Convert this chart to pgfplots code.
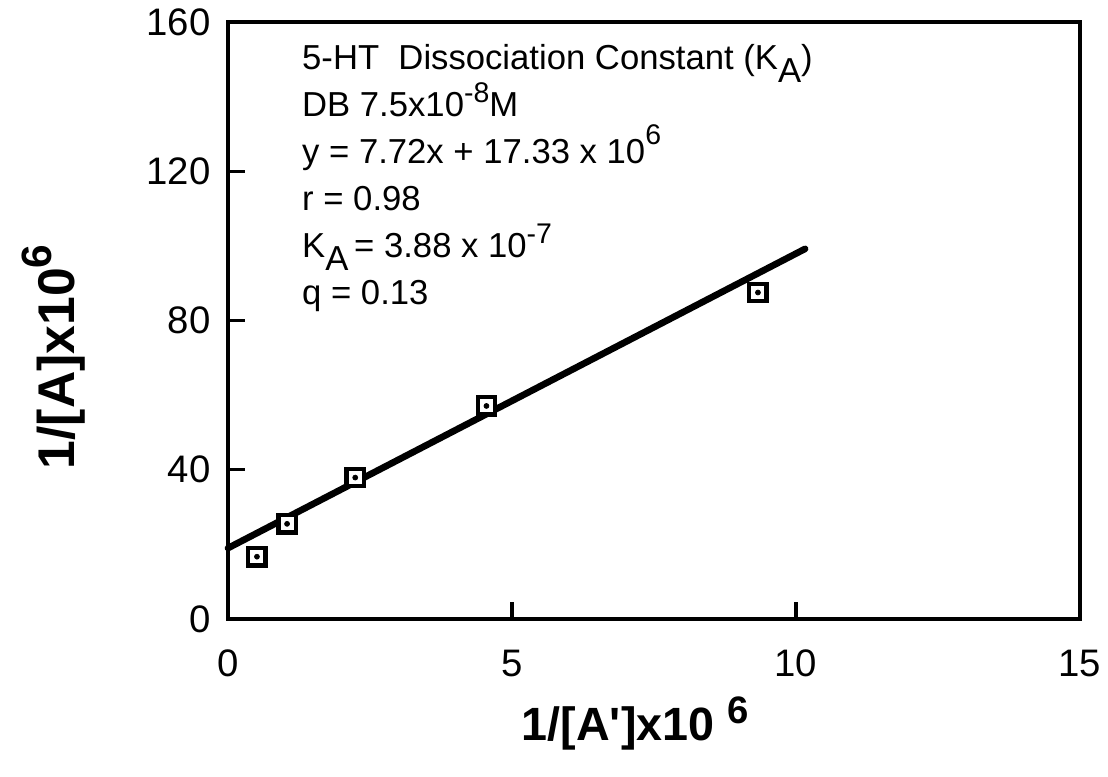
\documentclass[border=0pt]{standalone}
\usepackage{fontspec}
\setmainfont{Liberation Sans}
\usepackage{pgfplots}
\pgfplotsset{compat=1.18}
% raised / lowered pieces of the labels
\newcommand\up[2][0.4em]{\raisebox{#1}{\scalebox{0.82}{#2}}}
\newcommand\dn[1]{\raisebox{-0.38em}{#1}}

\pgfplotstableread{
x y
0.51 16.7
1.04 25.5
2.24 37.9
4.55 57.1
9.33 87.5
}\points

\pgfplotstableread{
x y
0 19.0
10.16 99.2
}\fitline

\begin{document}
\begin{tikzpicture}
\useasboundingbox (-136.8pt,-94.8pt) rectangle (528pt,371.4pt);
\begin{axis}[
    at={(0pt,0pt)}, anchor=south west,
    scale only axis, width=511.2pt, height=358.2pt,
    xmin=0, xmax=15, ymin=0, ymax=160,
    xtick={0,5,10,15}, ytick={0,40,80,120,160},
    tick pos=left, tick align=inside, major tick length=10pt,
    line width=2.5pt,
    every tick/.style={black, line width=1.9pt},
    ticklabel style={font=\fontsize{23}{27}\selectfont},
    /pgf/number format/assume math mode=true,
    xticklabel style={yshift=-14pt},
    yticklabel style={xshift=-6pt},
    xlabel={\textbf{1/[A\textquotesingle]x10 \up[0.36em]{6}}},
    ylabel={\textbf{1/[A]x10\up[0.45em]{6}}},
    xlabel style={font=\fontsize{28}{32}\selectfont, at={(axis description cs:0.478,-0.2027)}, anchor=base},
    ylabel style={font=\fontsize{31}{36}\selectfont, at={(axis description cs:-0.205,0.439)}, anchor=center},
    clip=false,
]
\addplot[black, line width=4pt, line cap=round] table {\fitline};
\addplot[only marks, mark=square*, mark size=5.2pt,
    mark options={fill=white, draw=black, line width=2.6pt}] table {\points};
\addplot[only marks, mark=*, mark size=1.5pt, mark options={fill=black, draw=black, line width=0.4pt}] table {\points};

\begin{scope}[every node/.style={anchor=base west, inner sep=0pt, font=\fontsize{20.8}{24}\selectfont}]
\node at (axis cs:1.27,147.2) {5-HT\ \ Dissociation Constant (K\dn{A})};
\node at (axis cs:1.27,134.6) {DB 7.5x10\up{-8}M};
\node at (axis cs:1.27,122.0) {y = 7.72x + 17.33 x 10\up[0.55em]{6}};
\node at (axis cs:1.27,109.4) {r = 0.98};
\node at (axis cs:1.27,96.8) {K\dn{A}\,= 3.88 x 10\up{-7}};
\node at (axis cs:1.27,84.2) {q = 0.13};
\end{scope}
\end{axis}
\end{tikzpicture}
\end{document}
